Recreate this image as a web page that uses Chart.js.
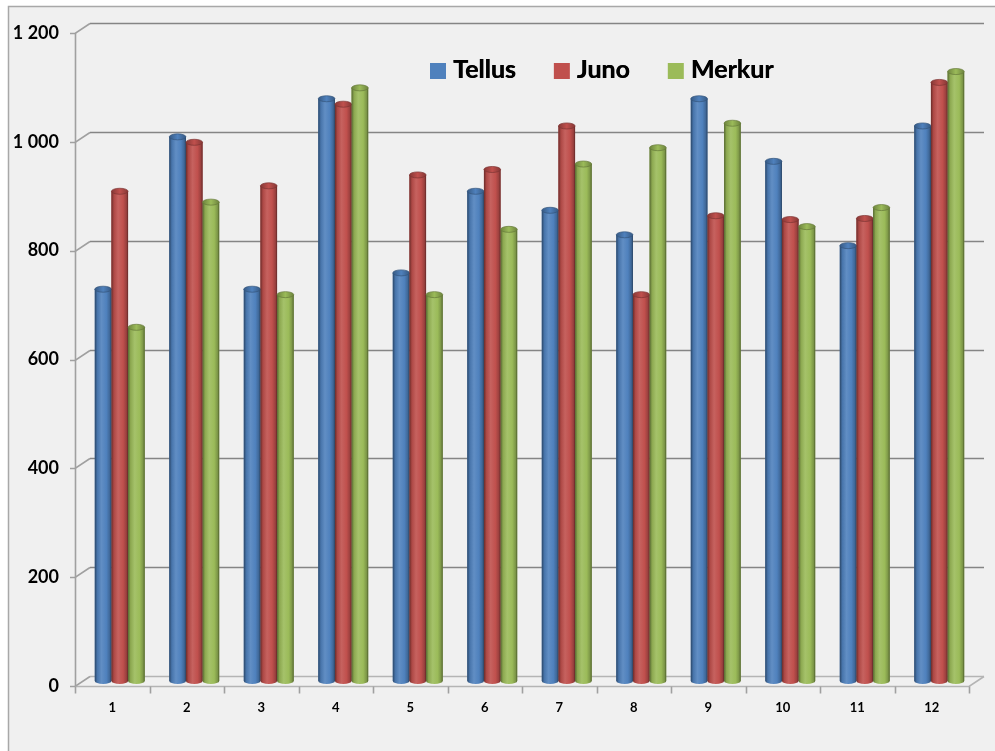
<!DOCTYPE html>
<html>
<head>
<meta charset="utf-8">
<script src="https://cdn.jsdelivr.net/npm/chart.js@4.4.1/dist/chart.umd.min.js"></script>
<style>
  html, body { margin: 0; padding: 0; background: #fff; }
  #wrap { width: 995px; height: 751px; }
</style>
</head>
<body>
<div id="wrap"><canvas id="myChart"></canvas></div>
<script>
const months = ["1", "2", "3", "4", "5", "6", "7", "8", "9", "10", "11", "12"];
const tellus = [720, 1000, 720, 1070, 750, 900, 865, 820, 1070, 955, 800, 1020];
const juno = [900, 990, 910, 1060, 930, 940, 1020, 710, 855, 848, 850, 1100];
const merkur = [650, 880, 710, 1090, 710, 830, 950, 980, 1025, 835, 870, 1120];
const yTicks = [0, 200, 400, 600, 800, 1000, 1200];

const colors = ["#4f81bd", "#c0504d", "#9bbb59"];
const DX = 15, DY = -10; // depth of the back wall

function shade(hex, amt) {
  let r = parseInt(hex.slice(1, 3), 16), g = parseInt(hex.slice(3, 5), 16), b = parseInt(hex.slice(5, 7), 16);
  const t = amt < 0 ? 0 : 255, p = Math.abs(amt);
  r = Math.round(r + (t - r) * p); g = Math.round(g + (t - g) * p); b = Math.round(b + (t - b) * p);
  return "rgb(" + r + "," + g + "," + b + ")";
}

function fmt(v) {
  if (v >= 1000) return Math.floor(v / 1000) + " " + String(v % 1000).padStart(3, "0");
  return String(v);
}

// frame + background
const backdrop = {
  id: "backdrop",
  beforeDraw(chart) {
    const ctx = chart.ctx;
    ctx.save();
    ctx.fillStyle = "#fff";
    ctx.fillRect(0, 0, chart.width, chart.height);
    ctx.fillStyle = "#f0f0f0";
    ctx.fillRect(8, 6, chart.width, chart.height);
    ctx.strokeStyle = "#a8a8a8";
    ctx.lineWidth = 1.5;
    ctx.beginPath();
    ctx.moveTo(8.5, chart.height);
    ctx.lineTo(8.5, 6.5);
    ctx.lineTo(chart.width, 6.5);
    ctx.stroke();
    ctx.restore();
  }
};

// 3d walls, gridlines and the bar cylinders
const walls = {
  id: "walls",
  beforeDatasetsDraw(chart) {
    const ctx = chart.ctx, a = chart.chartArea, y = chart.scales.y;
    ctx.save();
    ctx.lineWidth = 1.6;
    yTicks.forEach(v => {
      const py = Math.round(y.getPixelForValue(v)) + 0.5;
      ctx.strokeStyle = v === 0 ? "#b4b4b4" : "#858585";
      ctx.beginPath();
      ctx.moveTo(a.left + DX, py + DY);
      ctx.lineTo(a.right + DX, py + DY);
      ctx.stroke();
      ctx.strokeStyle = "#a0a0a0";
      ctx.beginPath();
      ctx.moveTo(a.left - 5, py);
      ctx.lineTo(a.left, py);
      ctx.lineTo(a.left + DX, py + DY);
      ctx.stroke();
    });
    // floor
    const by = Math.round(y.getPixelForValue(0)) + 0.5;
    ctx.strokeStyle = "#b4b4b4";
    ctx.beginPath();
    ctx.moveTo(a.left, by);
    ctx.lineTo(a.right, by);
    ctx.lineTo(a.right + DX, by + DY);
    ctx.stroke();
    // left axis
    ctx.strokeStyle = "#a0a0a0";
    ctx.beginPath();
    ctx.moveTo(a.left + 0.5, Math.round(y.getPixelForValue(1200)));
    ctx.lineTo(a.left + 0.5, by);
    ctx.stroke();
    // category ticks
    for (let i = 0; i <= months.length; i++) {
      const px = Math.round(a.left + i * (a.right - a.left) / months.length) + 0.5;
      ctx.beginPath();
      ctx.moveTo(px, by);
      ctx.lineTo(px, by + 7);
      ctx.stroke();
    }
    ctx.restore();
    ctx.save();
    ctx.translate(DX / 2, DY / 2);
  },
  afterDatasetsDraw(chart) {
    const ctx = chart.ctx;
    chart.data.datasets.forEach((ds, di) => {
      const c = colors[di];
      chart.getDatasetMeta(di).data.forEach(el => {
        const w = el.width, x0 = el.x - w / 2, top = el.y, base = el.base, ry = 3;
        const g = ctx.createLinearGradient(x0, 0, x0 + w, 0);
        g.addColorStop(0, shade(c, -0.45));
        g.addColorStop(0.15, shade(c, -0.1));
        g.addColorStop(0.4, shade(c, 0.1));
        g.addColorStop(0.7, c);
        g.addColorStop(0.9, shade(c, -0.2));
        g.addColorStop(1, shade(c, -0.5));
        ctx.fillStyle = g;
        ctx.beginPath();
        ctx.moveTo(x0, top);
        ctx.lineTo(x0, base);
        ctx.ellipse(el.x, base, w / 2, ry, 0, Math.PI, 0, true);
        ctx.lineTo(x0 + w, top);
        ctx.closePath();
        ctx.fill();
        const gc = ctx.createLinearGradient(x0, 0, x0 + w, 0);
        gc.addColorStop(0, shade(c, -0.3));
        gc.addColorStop(0.5, shade(c, 0.0));
        gc.addColorStop(1, shade(c, -0.3));
        ctx.fillStyle = gc;
        ctx.strokeStyle = shade(c, -0.35);
        ctx.lineWidth = 0.7;
        ctx.beginPath();
        ctx.ellipse(el.x, top, w / 2, ry, 0, 0, Math.PI * 2);
        ctx.fill();
        ctx.stroke();
      });
    });
    ctx.restore();
  }
};

// legend drawn inside the plot
const legendInside = {
  id: "legendInside",
  afterDraw(chart) {
    const ctx = chart.ctx;
    ctx.save();
    ctx.font = "bold 25px Lato";
    ctx.textBaseline = "alphabetic";
    let x = 430;
    chart.data.datasets.forEach((ds, i) => {
      ctx.fillStyle = colors[i];
      ctx.fillRect(x, 63, 16, 16);
      ctx.fillStyle = "#000";
      ctx.fillText(ds.label, x + 23, 78);
      ctx.fillText(ds.label, x + 23.4, 78);
      x += 23 + ctx.measureText(ds.label).width + 38;
    });
    ctx.restore();
  }
};

const data = {
  labels: months,
  datasets: [
    { label: "Tellus", data: tellus, backgroundColor: colors[0] },
    { label: "Juno", data: juno, backgroundColor: colors[1] },
    { label: "Merkur", data: merkur, backgroundColor: colors[2] },
  ],
};

const config = {
  type: "bar",
  data,
  options: {
    responsive: true,
    maintainAspectRatio: false,
    animation: false,
    devicePixelRatio: 1,
    layout: { padding: { left: 8, right: 26, top: 33, bottom: 25 } },
    datasets: { bar: { categoryPercentage: 0.67, barPercentage: 1.0 } },
    plugins: { legend: { display: false }, tooltip: { enabled: false } },
    scales: {
      x: {
        grid: { display: false, drawTicks: false },
        border: { display: false },
        ticks: { color: "#000", font: { family: "Lato", weight: "bold", size: 13 }, padding: 14 },
        afterFit: s => { s.height = 40; },
      },
      y: {
        min: 0,
        max: 1200,
        grid: { display: false, drawTicks: false },
        border: { display: false },
        ticks: {
          stepSize: 200,
          color: "#000",
          font: { family: "Lato", weight: "bold", size: 18 },
          padding: 16,
          callback: v => fmt(v),
        },
        afterFit: s => { s.width = 67; },
      },
    },
  },
  plugins: [backdrop, walls, legendInside],
};

const myChart = new Chart(document.getElementById("myChart"), config);
</script>
</body>
</html>
